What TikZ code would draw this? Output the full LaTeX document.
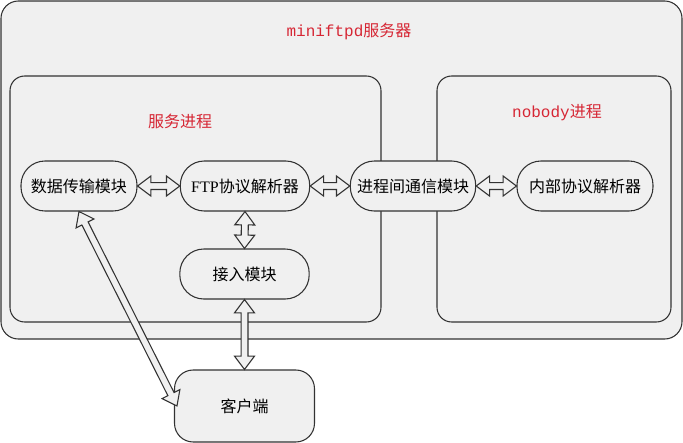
\documentclass[tikz,border=0pt]{standalone}
\usepackage{fontspec}
\setmainfont{Liberation Serif}
\setmonofont{Liberation Mono}
\newfontfamily\cjk{Noto Sans CJK SC}
\usetikzlibrary{calc}
\definecolor{boxgray}{RGB}{240,240,240}
\definecolor{edgegray}{RGB}{50,50,50}
\definecolor{titlered}{RGB}{214,38,52}
\begin{document}
\begin{tikzpicture}[
    x=0.75pt, y=-0.75pt,
    every node/.style={font=\fontsize{12}{14}\selectfont},
    frame/.style={
        draw=edgegray,
        fill=boxgray,
        line width=0.8pt
    },
    module/.style={
        draw=edgegray,
        fill=boxgray,
        line width=0.8pt,
        rounded corners=18pt,
        minimum height=37.5pt,
        inner sep=0pt
    },
    title/.style={text=titlered},
    blk/.style={
        draw=edgegray,
        fill=boxgray,
        line width=0.8pt,
        to path={
            -- ($(\tikztostart)!10pt!(\tikztotarget)!7.5pt!90:(\tikztotarget)$)
            -- ($(\tikztostart)!10pt!(\tikztotarget)!2.6pt!90:(\tikztotarget)$)
            -- ($(\tikztotarget)!10pt!(\tikztostart)!2.6pt!270:(\tikztostart)$)
            -- ($(\tikztotarget)!10pt!(\tikztostart)!7.5pt!270:(\tikztostart)$)
            -- (\tikztotarget)
            -- ($(\tikztotarget)!10pt!(\tikztostart)!7.5pt!90:(\tikztostart)$)
            -- ($(\tikztotarget)!10pt!(\tikztostart)!2.6pt!90:(\tikztostart)$)
            -- ($(\tikztostart)!10pt!(\tikztotarget)!2.6pt!270:(\tikztotarget)$)
            -- ($(\tikztostart)!10pt!(\tikztotarget)!7.5pt!270:(\tikztotarget)$)
            -- cycle
        }
    }
]

\useasboundingbox (0,0) rectangle (683,443);

\draw[frame, rounded corners=13pt] (1,1) rectangle (682,339);
\draw[frame, rounded corners=11pt] (10,76) rectangle (381,322);
\draw[frame, rounded corners=11pt] (437,76) rectangle (671,322);

\node[title] (server) at (349,31) {{\ttfamily miniftpd}{\cjk 服务器}};
\node[title] (svc) at (180,121) {\cjk 服务进程};
\node[title] (nobody) at (557,113) {{\ttfamily nobody}{\cjk 进程}};

\node[module, minimum width=87pt] (data) at (79,186) {\cjk 数据传输模块};

\node[module, minimum width=97pt] (ftp) at (245,186) {FTP{\cjk 协议解析器}};

\node[module, minimum width=94pt] (ipc) at (413,186) {\cjk 进程间通信模块};

\node[module, minimum width=102pt] (inner) at (585,186) {\cjk 内部协议解析器};

\node[module, minimum width=97pt] (access) at (244.5,274) {\cjk 接入模块};

\node[module, minimum width=105pt, minimum height=54pt, rounded corners=14pt]
    (client) at (244.5,406) {\cjk 客户端};

\draw[blk] (data.east) to (ftp.west);
\draw[blk] (ftp.east) to (ipc.west);
\draw[blk] (ipc.east) to (inner.west);
\draw[blk] (ftp.south) to (access.north);
\draw[blk] (access.south) to (client.north);
\draw[blk] (data.south) to ($(client.west)+(3,0)$);

\end{tikzpicture}
\end{document}
